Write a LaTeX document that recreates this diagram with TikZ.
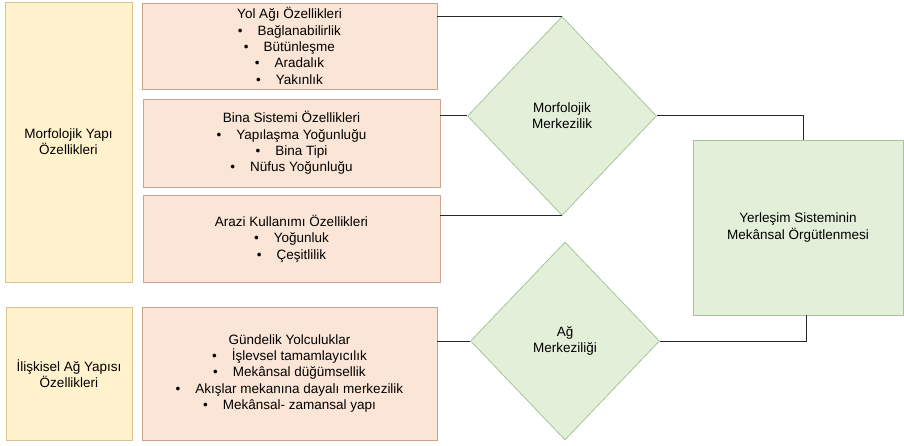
\documentclass[tikz,border=0pt]{standalone}
\usepackage{fontspec}
\setmainfont{Liberation Sans}
\usetikzlibrary{shapes.geometric}
\definecolor{yfill}{HTML}{FFF2CC}
\definecolor{ydraw}{HTML}{D8C58E}
\definecolor{pfill}{HTML}{FBE5D6}
\definecolor{pdraw}{HTML}{C9A48E}
\definecolor{gfill}{HTML}{E2F0D9}
\definecolor{gdraw}{HTML}{A8C49A}
\newcommand{\bitem}[1]{\textbullet\hspace{15pt}#1}
\begin{document}
\begin{tikzpicture}[x=1pt,y=-1pt,
  every node/.style={font=\fontsize{13.5}{16.3}\selectfont, align=center, inner sep=0pt, line width=0.8pt},
  ybox/.style={rectangle, fill=yfill, draw=ydraw},
  pbox/.style={rectangle, fill=pfill, draw=pdraw},
  gbox/.style={rectangle, fill=gfill, draw=gdraw},
  dbox/.style={diamond, fill=gfill, draw=gdraw, aspect=1},
  conn/.style={draw=black!85, line width=1pt}]
\useasboundingbox (0,0) rectangle (904,446);
\node[ybox, minimum width=127, minimum height=280] (y1) at (68.5,142) {Morfolojik Yapı\\Özellikleri};
\node[ybox, minimum width=126, minimum height=133] (y2) at (69,373.5) {İlişkisel Ağ Yapısı\\Özellikleri};
\node[pbox, minimum width=295, minimum height=86] (p1) at (289.5,46) {Yol Ağı Özellikleri\\\bitem{Bağlanabilirlik}\\\bitem{Bütünleşme}\\\bitem{Aradalık}\\\bitem{Yakınlık}};
\node[pbox, minimum width=297, minimum height=88] (p2) at (291.5,143) {Bina Sistemi Özellikleri\\\bitem{Yapılaşma Yoğunluğu}\\\bitem{Bina Tipi}\\\bitem{Nüfus Yoğunluğu}};
\node[pbox, minimum width=297, minimum height=87] (p3) at (291.5,238.5) {Arazi Kullanımı Özellikleri\\\bitem{Yoğunluk}\\\bitem{Çeşitlilik}};
\node[pbox, minimum width=295, minimum height=133] (p4) at (289.5,373.5) {Gündelik Yolculuklar\\\bitem{İşlevsel tamamlayıcılık}\\\bitem{Mekânsal düğümsellik}\\\bitem{Akışlar mekanına dayalı merkezilik}\\\bitem{Mekânsal- zamansal yapı}};
\node[dbox, minimum width=189, minimum height=199] (d1) at (562,116) {Morfolojik\\Merkezilik};
\node[dbox, minimum width=189, minimum height=198] (d2) at (565,341) {Ağ\\Merkeziliği};
\node[gbox, minimum width=210, minimum height=175] (g) at (798,227.5) {Yerleşim Sisteminin\\Mekânsal Örgütlenmesi};
\draw[conn] (p1.east |- d1.north) -- (d1.north);
\draw[conn] (p2.east |- d1.west) -- (d1.west);
\draw[conn] (p3.east |- d1.south) -- (d1.south);
\draw[conn] (p4.east |- d2.west) -- (d2.west);
\draw[conn] (d1.east) -| ([xshift=5]g.north);
\draw[conn] (d2.east) -| ([xshift=8]g.south);
\end{tikzpicture}
\end{document}
